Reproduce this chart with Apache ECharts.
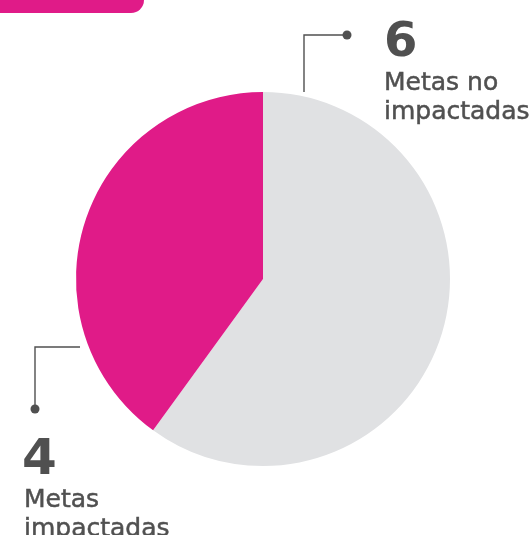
<!DOCTYPE html>
<html><head><meta charset="utf-8">
<script src="https://cdn.jsdelivr.net/npm/echarts@6/dist/echarts.min.js"></script>
<style>html,body{margin:0;padding:0;background:#fff}#c{width:529px;height:535px}</style>
</head><body><div id="c"></div>
<script>
var categories = ['Metas no impactadas', 'Metas impactadas'];
var values = [6, 4];
var colors = ['#e0e1e3', '#e01b88'];
var labelLines = [['Metas no', 'impactadas'], ['Metas', 'impactadas']];

var chart = echarts.init(document.getElementById('c'), null, {renderer: 'canvas'});
var txt = '#505050';
var font = '"DejaVu Sans", sans-serif';
chart.setOption({
  animation: false,
  series: [{
    type: 'pie',
    center: [263, 279],
    radius: 187,
    startAngle: 90,
    clockwise: true,
    label: {show: false},
    labelLine: {show: false},
    emphasis: {disabled: true},
    data: categories.map(function (c, i) {
      return {name: c, value: values[i], itemStyle: {color: colors[i]}};
    })
  }],
  graphic: [
    {type: 'rect', shape: {x: -20, y: -20, width: 164, height: 33, r: [0, 0, 13, 0]}, style: {fill: '#e01b88'}},
    {type: 'polyline', shape: {points: [[304, 92], [304, 35], [347, 35]]}, style: {stroke: txt, lineWidth: 1.4, fill: null}},
    {type: 'circle', shape: {cx: 347, cy: 35, r: 4.5}, style: {fill: txt}},
    {type: 'text', x: 384, y: 20, style: {text: String(values[0]), font: 'bold 48px ' + font, fill: txt}},
    {type: 'text', x: 384, y: 69, style: {text: labelLines[0].join('\n'), font: '25px ' + font, lineHeight: 29, fill: txt, stroke: txt, lineWidth: 0.5}},
    {type: 'polyline', shape: {points: [[80, 347], [35, 347], [35, 409]]}, style: {stroke: txt, lineWidth: 1.4, fill: null}},
    {type: 'circle', shape: {cx: 35, cy: 409, r: 4.5}, style: {fill: txt}},
    {type: 'text', x: 22, y: 436, style: {text: String(values[1]), font: 'bold 50px ' + font, fill: txt}},
    {type: 'text', x: 24, y: 486, style: {text: labelLines[1].join('\n'), font: '25px ' + font, lineHeight: 29, fill: txt, stroke: txt, lineWidth: 0.5}}
  ]
});
</script></body></html>
